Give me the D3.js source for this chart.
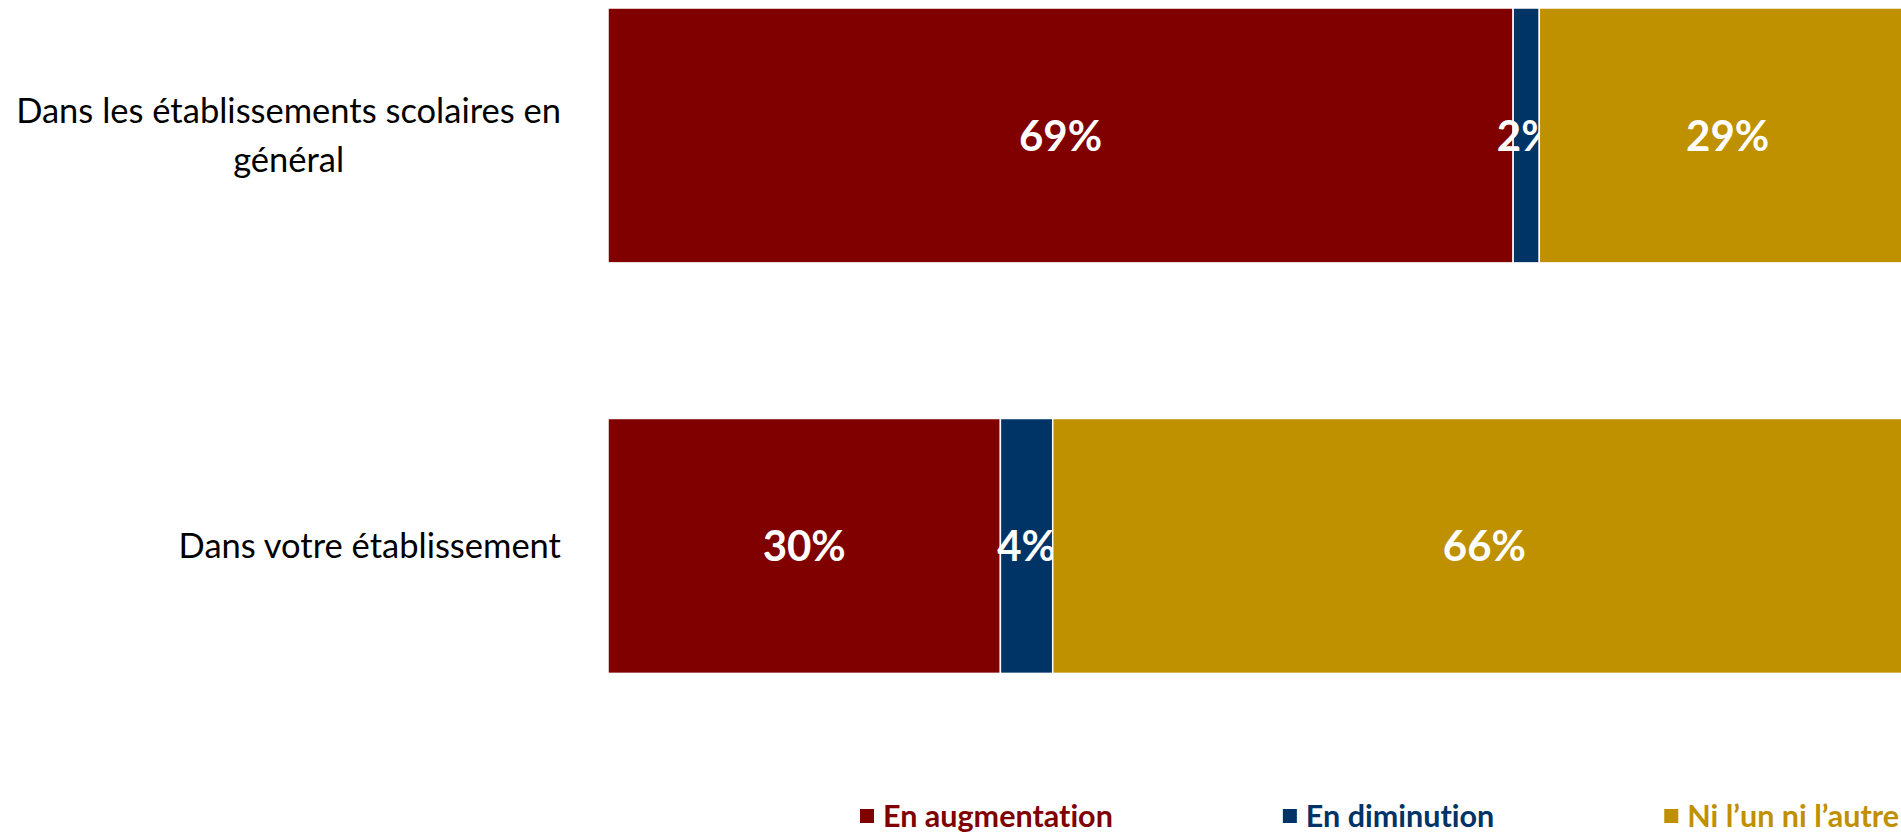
<!DOCTYPE html>
<meta charset="utf-8">
<style>
  body { margin: 0; background: #fff; }
  svg { display: block; font-family: Lato, "Open Sans", sans-serif; font-variant-ligatures: none; }
  .cat { font-size: 34.5px; fill: #000; }
  .val { font-size: 42px; font-weight: bold; fill: #fff; text-anchor: middle; }
  .legend text { font-size: 30.5px; font-weight: bold; }
</style>
<svg width="1901" height="832"></svg>
<script src="https://d3js.org/d3.v7.min.js"></script>
<script>
// data
var categories = ["Dans les établissements scolaires en général", "Dans votre établissement"];
var series = ["En augmentation", "En diminution", "Ni l\u2019un ni l\u2019autre"];
var augmentation = [69.2, 30.0];
var diminution = [2.0, 4.0];
var niLunNiLautre = [28.8, 66.0];
var colors = ["#800000", "#003366", "#BF9000"];

var svg = d3.select("svg"),
    width = +svg.attr("width"),
    height = +svg.attr("height");

var rows = categories.map(function(c, i) {
  return { cat: c, "En augmentation": augmentation[i], "En diminution": diminution[i], "Ni l\u2019un ni l\u2019autre": niLunNiLautre[i] };
});
var stacked = d3.stack().keys(series)(rows);

// scales (chart runs a bit past the right edge, like the original)
var x = d3.scaleLinear().domain([0, 100]).range([608, 1916]);
var y = d3.scaleBand().domain(categories).range([8, 673.4]).paddingInner(0.379).paddingOuter(0);
var color = d3.scaleOrdinal().domain(series).range(colors);

// bars
var layer = svg.append("g").selectAll("g")
  .data(stacked)
  .enter().append("g")
    .attr("fill", function(d) { return color(d.key); });

layer.selectAll("rect")
  .data(function(d) { return d; })
  .enter().append("rect")
    .attr("x", function(d) { return x(d[0]); })
    .attr("y", function(d) { return y(d.data.cat); })
    .attr("width", function(d) { return x(d[1]) - x(d[0]); })
    .attr("height", y.bandwidth())
    .attr("stroke", "#fff")
    .attr("stroke-width", 1.5);

// value labels
layer.selectAll("text")
  .data(function(d) { return d; })
  .enter().append("text")
    .attr("class", "val")
    .attr("x", function(d) { return (x(d[0]) + x(d[1])) / 2; })
    .attr("y", function(d) { return y(d.data.cat) + y.bandwidth() / 2; })
    .attr("dy", "0.36em")
    .text(function(d) { return Math.round(d[1] - d[0]) + "%"; });

// category labels, wrapped, right aligned with centred lines
var labelRight = 561, wrapWidth = 560, lineH = 49;
categories.forEach(function(c) {
  var t = svg.append("text").attr("class", "cat");
  var words = c.split(" "), lines = [], cur = [];
  words.forEach(function(w) {
    cur.push(w);
    t.text(cur.join(" "));
    if (t.node().getComputedTextLength() > wrapWidth && cur.length > 1) {
      cur.pop();
      lines.push(cur.join(" "));
      cur = [w];
    }
  });
  lines.push(cur.join(" "));
  t.text(null);
  var widths = lines.map(function(l) { t.text(l); return t.node().getComputedTextLength(); });
  t.text(null);
  var maxW = d3.max(widths);
  var cx = labelRight - maxW / 2;
  var cy = y(c) + y.bandwidth() / 2;
  lines.forEach(function(l, i) {
    t.append("tspan")
      .attr("x", cx)
      .attr("text-anchor", "middle")
      .attr("y", cy + (i - (lines.length - 1) / 2) * lineH)
      .attr("dy", "0.35em")
      .text(l);
  });
});

// legend, right aligned at bottom
var legend = svg.append("g").attr("class", "legend");
var items = legend.selectAll("g").data(series).enter().append("g");
items.append("rect")
  .attr("width", 14).attr("height", 14)
  .attr("y", -7)
  .attr("fill", function(d) { return color(d); });
items.append("text")
  .attr("x", 23)
  .attr("dy", "0.35em")
  .attr("fill", function(d) { return color(d); })
  .text(function(d) { return d; });
var gap = 170, legendRight = 1899, legendY = 816;
var itemW = [];
items.each(function() { itemW.push(this.getBBox().width); });
var pos = legendRight - d3.sum(itemW) - gap * (series.length - 1);
items.attr("transform", function(d, i) {
  var px = pos;
  pos += itemW[i] + gap;
  return "translate(" + px + "," + legendY + ")";
});
</script>
